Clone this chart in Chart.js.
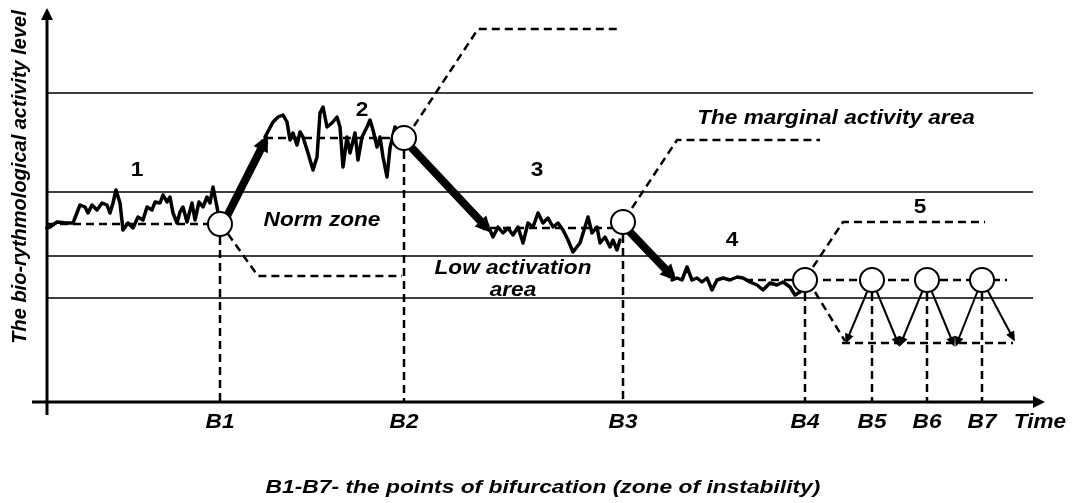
<!DOCTYPE html>
<html>
<head>
<meta charset="utf-8">
<script src="https://cdn.jsdelivr.net/npm/chart.js@4"></script>
<style>
  html, body { margin: 0; padding: 0; background: #fff; }
  canvas { display: block; }
</style>
</head>
<body>
<canvas id="chart_canvas" width="1073" height="503"></canvas>
<script>
"use strict";

// zone boundaries (activity level)
const zone_levels = [30.9, 21.0, 14.6, 10.4];
const zone_span = [0, 98.6];

// bifurcation points
const bif_labels = ["B1", "B2", "B3", "B4", "B5", "B6", "B7"];
const bif_time = [17.3, 35.7, 57.6, 75.8, 82.5, 88.0, 93.5];
const bif_level = [17.8, 26.4, 18.0, 12.2, 12.2, 12.2, 12.2];

// activity curve [time, level]
const phase1 = [[0, 17.4], [0.3, 17.5], [1.0, 18.0], [2.0, 17.9], [2.6, 17.9], [3.3, 19.7], [3.8, 19.5], [4.1, 18.9],
  [4.5, 19.7], [5.0, 19.2], [5.5, 19.9], [6.0, 19.7], [6.3, 18.9], [6.6, 19.9], [6.9, 21.2], [7.3, 19.9], [7.6, 17.2],
  [8.1, 17.9], [8.6, 17.4], [9.1, 18.5], [9.6, 18.2], [10.0, 19.5], [10.5, 19.2], [10.8, 20.0], [11.3, 19.9],
  [11.6, 20.7], [12.0, 20.0], [12.3, 20.5], [12.6, 18.9], [13.0, 17.9], [13.3, 19.0], [13.6, 19.5], [14.0, 18.0],
  [14.5, 19.9], [14.8, 18.2], [15.2, 20.0], [15.6, 19.5], [16.0, 20.5], [16.3, 19.9], [16.6, 21.5], [17.0, 19.5], [17.3, 17.8]];
const phase2 = [[21.8, 26.5], [22.6, 28.0], [23.1, 28.5], [23.6, 28.7], [24.0, 28.0], [24.3, 26.2], [24.6, 26.9],
  [25.0, 25.7], [25.3, 27.0], [25.6, 26.5], [26.1, 24.9], [26.6, 23.2], [27.0, 24.5], [27.3, 28.9], [27.6, 29.5],
  [28.0, 27.5], [28.5, 27.9], [29.0, 28.5], [29.3, 27.5], [29.6, 23.5], [30.0, 26.5], [30.3, 24.9], [30.8, 26.9],
  [31.1, 24.2], [31.5, 26.5], [32.0, 27.5], [32.3, 28.2], [32.6, 27.2], [33.0, 25.5], [33.3, 26.5], [33.6, 24.5],
  [34.0, 22.5], [34.3, 25.4], [34.8, 27.5], [35.3, 26.7]];
const phase3 = [[44.3, 17.2], [44.6, 16.5], [45.1, 17.5], [45.6, 16.9], [46.1, 17.4], [46.6, 16.7], [47.1, 17.5],
  [47.6, 15.9], [48.1, 17.9], [48.6, 17.5], [49.1, 18.9], [49.6, 17.9], [50.1, 18.4], [50.6, 17.5], [51.1, 17.9],
  [51.6, 17.2], [52.1, 16.2], [52.6, 15.0], [53.3, 15.9], [53.8, 17.5], [54.1, 18.5], [54.5, 16.9], [55.0, 17.5],
  [55.3, 15.9], [55.8, 16.5], [56.3, 15.5], [56.6, 16.2], [57.0, 15.2], [57.3, 16.2]];
const phase4 = [[62.5, 12.2], [63.0, 12.4], [63.5, 12.2], [64.0, 13.5], [64.5, 12.2], [65.0, 12.4], [65.5, 12.0],
  [66.0, 12.4], [66.5, 11.2], [67.0, 12.2], [67.6, 12.4], [68.3, 12.2], [69.0, 12.5], [69.6, 12.4], [70.3, 12.0],
  [71.0, 11.7], [71.6, 11.2], [72.3, 11.9], [73.0, 11.7], [73.6, 12.0], [74.3, 11.5], [74.8, 10.7], [75.3, 11.0], [75.6, 11.7]];

// fast transitions between phases (bold arrows)
const transitions = [
  [[17.5, 17.6], [21.8, 26.1]],
  [[36.3, 25.6], [44.0, 17.4]],
  [[58.1, 17.2], [62.5, 12.6]]
];

// norm level of each phase [from, to, level]
const norm_levels = [[0, 16.3, 17.8], [21.8, 34.8, 26.4], [44.3, 56.5, 17.4], [69.8, 96.0, 12.2], [79.5, 96.6, 5.9]];

// dashed leaders from the bifurcation points
const leaders = [
  [[18.1, 16.8], [21.1, 12.6], [35.5, 12.6]],
  [[36.7, 27.6], [43.1, 37.3], [57.0, 37.3]],
  [[58.5, 19.4], [63.0, 26.2], [77.3, 26.2]],
  [[76.6, 13.5], [79.6, 18.0], [93.8, 18.0]],
  [[76.8, 11.0], [79.8, 6.1]]
];

// oscillation in phase 5
const swings = [
  [[82.5, 12.2], [80.0, 6.2]],
  [[82.5, 12.2], [85.1, 5.9]],
  [[88.0, 12.2], [85.4, 5.9]],
  [[88.0, 12.2], [90.6, 5.9]],
  [[93.5, 12.2], [91.0, 5.9]],
  [[93.5, 12.2], [96.6, 6.4]]
];

const phase_names = ["1", "2", "3", "4", "5"];
const phase_name_at = [[9.0, 23.2], [31.5, 29.2], [49.0, 23.2], [68.5, 16.2], [87.3, 19.5]];

const font_family = "'Liberation Sans', Arial, sans-serif";

function pts(arr) {
  return arr.map(p => ({ x: p[0], y: p[1] }));
}

function line_ds(data, width, extra) {
  return Object.assign({
    data: pts(data),
    showLine: true,
    borderColor: "#000",
    backgroundColor: "#000",
    borderWidth: width,
    pointRadius: 0,
    tension: 0,
    fill: false,
    borderJoinStyle: "round",
    borderCapStyle: "butt",
    order: 3
  }, extra || {});
}

const datasets = [];
const dashed = { borderDash: [8, 5], order: 4 };

// axes
datasets.push(line_ds([[0, -1.3], [0, 38.2]], 3, { order: 2, arrow: "axis" }));
datasets.push(line_ds([[-1.5, 0], [98.6, 0]], 3, { order: 2, arrow: "axis" }));

zone_levels.forEach(l => datasets.push(line_ds([[zone_span[0], l], [zone_span[1], l]], 1.5, { order: 5 })));
norm_levels.forEach(n => datasets.push(line_ds([[n[0], n[2]], [n[1], n[2]]], 2.5, dashed)));
leaders.forEach(l => datasets.push(line_ds(l, 2.5, dashed)));
bif_time.forEach((t, i) => datasets.push(line_ds([[t, bif_level[i]], [t, 0]], 2.5, dashed)));

[phase1, phase2, phase3, phase4].forEach(p => datasets.push(line_ds(p, 3.5, { order: 2, borderCapStyle: "round" })));
transitions.forEach(t => datasets.push(line_ds(t, 8, { order: 2, arrow: "bold" })));
swings.forEach(s => datasets.push(line_ds(s, 2, { order: 2, arrow: "thin" })));

datasets.push({
  data: pts(bif_time.map((t, i) => [t, bif_level[i]])),
  showLine: false,
  pointRadius: 12,
  pointBorderWidth: 2,
  pointBackgroundColor: "#fff",
  pointBorderColor: "#000",
  order: 0
});

const arrow_sizes = { axis: [12, 6], bold: [16, 8], thin: [10, 4.5] };

// text is a bit wider than the plain font in the picture
function stretched(ctx, txt, x, y, sx) {
  ctx.save();
  ctx.translate(x, y);
  ctx.scale(sx, 1);
  ctx.fillText(txt, 0, 0);
  ctx.restore();
}

const decor = {
  id: "decor",
  afterDatasetsDraw(chart) {
    const ctx = chart.ctx;
    const xs = chart.scales.x, ys = chart.scales.y;
    const px = v => xs.getPixelForValue(v);
    const py = v => ys.getPixelForValue(v);

    // arrow heads
    chart.data.datasets.forEach(ds => {
      if (!ds.arrow) return;
      const d = ds.data;
      const a = d[d.length - 2], b = d[d.length - 1];
      const x0 = px(a.x), y0 = py(a.y), x1 = px(b.x), y1 = py(b.y);
      const ang = Math.atan2(y1 - y0, x1 - x0);
      const len = arrow_sizes[ds.arrow][0], hw = arrow_sizes[ds.arrow][1];
      const ahead = ds.arrow === "axis" ? len : len * 0.4;
      const tipx = x1 + Math.cos(ang) * ahead, tipy = y1 + Math.sin(ang) * ahead;
      const bx = tipx - Math.cos(ang) * len, by = tipy - Math.sin(ang) * len;
      ctx.save();
      ctx.fillStyle = "#000";
      ctx.beginPath();
      ctx.moveTo(tipx, tipy);
      ctx.lineTo(bx + Math.sin(ang) * hw, by - Math.cos(ang) * hw);
      ctx.lineTo(bx - Math.sin(ang) * hw, by + Math.cos(ang) * hw);
      ctx.closePath();
      ctx.fill();
      ctx.restore();
    });

    ctx.save();
    ctx.fillStyle = "#000";
    ctx.textAlign = "center";
    ctx.textBaseline = "middle";

    ctx.font = "bold 20px " + font_family;
    phase_names.forEach((n, i) => stretched(ctx, n, px(phase_name_at[i][0]), py(phase_name_at[i][1]), 1.13));

    ctx.font = "italic bold 20px " + font_family;
    stretched(ctx, "Norm zone", px(27.5), py(18.2), 1.13);
    stretched(ctx, "Low activation", px(46.6), py(13.4), 1.13);
    stretched(ctx, "area", px(46.6), py(11.2), 1.13);
    stretched(ctx, "The marginal activity area", px(78.9), py(28.4), 1.13);

    bif_labels.forEach((b, i) => stretched(ctx, b, px(bif_time[i]), py(-2.0), 1.13));
    stretched(ctx, "Time", px(99.3), py(-2.0), 1.13);

    ctx.font = "italic bold 19px " + font_family;
    stretched(ctx, "B1-B7- the points of bifurcation (zone of instability)", px(49.6), py(-8.6), 1.2);

    ctx.font = "italic bold 20px " + font_family;
    ctx.translate(px(-2.7), py(22.5));
    ctx.rotate(-Math.PI / 2);
    ctx.fillText("The bio-rythmological activity level", 0, 0);
    ctx.restore();
  }
};

new Chart(document.getElementById("chart_canvas"), {
  type: "scatter",
  data: { datasets: datasets },
  options: {
    responsive: false,
    animation: false,
    devicePixelRatio: 1,
    layout: { padding: 0, autoPadding: false },
    plugins: { legend: { display: false }, tooltip: { enabled: false } },
    scales: {
      x: { type: "linear", min: -4.7, max: 102.6, display: false },
      y: { type: "linear", min: -10.1, max: 40.2, display: false }
    }
  },
  plugins: [decor]
});
</script>
</body>
</html>
